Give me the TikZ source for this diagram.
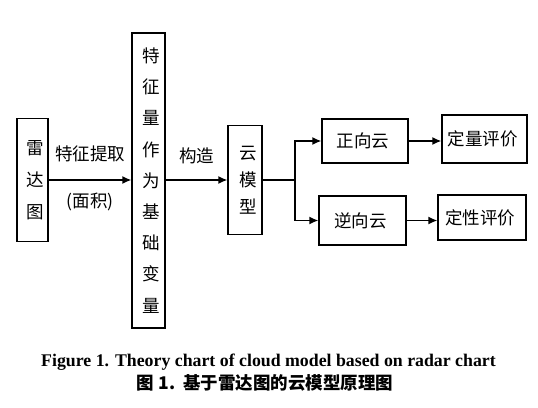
\documentclass[tikz,border=0pt]{standalone}
\usepackage{fontspec}
\setmainfont{Liberation Serif}
\newfontfamily\cjk{Noto Sans CJK SC}
\usepackage{tikz}
\usetikzlibrary{
  arrows.meta,
  positioning
}
\tikzset{
  box/.style={
    draw,
    line width=1.3pt,
    inner sep=0pt,
    align=center,
    font=\cjk\fontsize{17.5}{20}\selectfont
  },
  vbox/.style={
    box,
    text width=1.2em
  },
  label/.style={
    font=\cjk\fontsize{17.5}{20}\selectfont
  },
  connection/.style={
    -{Latex[length=9pt,width=8pt]},
    line width=1.4pt
  },
  plain/.style={
    line width=1.1pt
  }
}

\begin{document}
\begin{tikzpicture}[x=1pt, y=-1pt]

  \useasboundingbox (0,0) rectangle (538,407);

  \node[
    vbox,
    minimum width=31pt,
    minimum height=123pt,
    font=\cjk\fontsize{17.5}{32}\selectfont
  ] (radar) at (32.5,180) {
    雷\\达\\图
  };

  \node[
    vbox,
    minimum width=33pt,
    minimum height=295pt,
    font=\cjk\fontsize{17.5}{31.2}\selectfont
  ] (feat) at (148.5,180.5) {
    特\\征\\量\\作\\为\\基\\础\\变\\量
  };

  \node[
    vbox,
    minimum width=34pt,
    minimum height=109pt,
    font=\cjk\fontsize{17.5}{27}\selectfont
  ] (model) at (245,180) {
    云\\模\\型
  };

  \node[
    box,
    minimum width=86pt,
    minimum height=44pt
  ] (fwd) at (365,141) {
    正向云
  };

  \node[
    box,
    minimum width=87pt,
    minimum height=49pt
  ] (bwd) at (362.5,220.5) {
    逆向云
  };

  \node[
    box,
    minimum width=85pt,
    minimum height=48pt
  ] (quant) at (484.5,139) {
    定量评价
  };

  \node[
    box,
    minimum width=88pt,
    minimum height=45pt
  ] (qual) at (482,217.5) {
    定性评价
  };

  \coordinate (split) at (295,180);

  \draw[connection]
  (radar.east) --
  node[
    label,
    midway,
    above=14pt
  ] (extract) {
    特征提取
  }
  node[
    label,
    midway,
    below=9pt
  ] (area) {
    (面积)
  }
  (radar.east -| feat.west);

  \draw[connection]
  (feat.east |- model) --
  node[
    label,
    midway,
    above=12pt
  ] (build) {
    构造
  }
  (model);

  \draw[plain] (model) -- (split);

  \draw[connection] (split) |- (fwd);
  \draw[connection] (split) |- (bwd);

  \draw[connection] (fwd.east) -- (fwd.east -| quant.west);
  \draw[connection] (bwd.east) -- (bwd.east -| qual.west);

  % caption
  \node[
    font=\bfseries\fontsize{17.8}{20}\selectfont
  ] (title) at (268.5,362) {
    Figure 1. Theory chart of cloud model based on radar chart
  };

  \node[
    font=\cjk\bfseries\fontsize{17.5}{20}\selectfont
  ] (titlecn) at (265,383) {
    图 1.\ \ 基于雷达图的云模型原理图
  };

\end{tikzpicture}
\end{document}
